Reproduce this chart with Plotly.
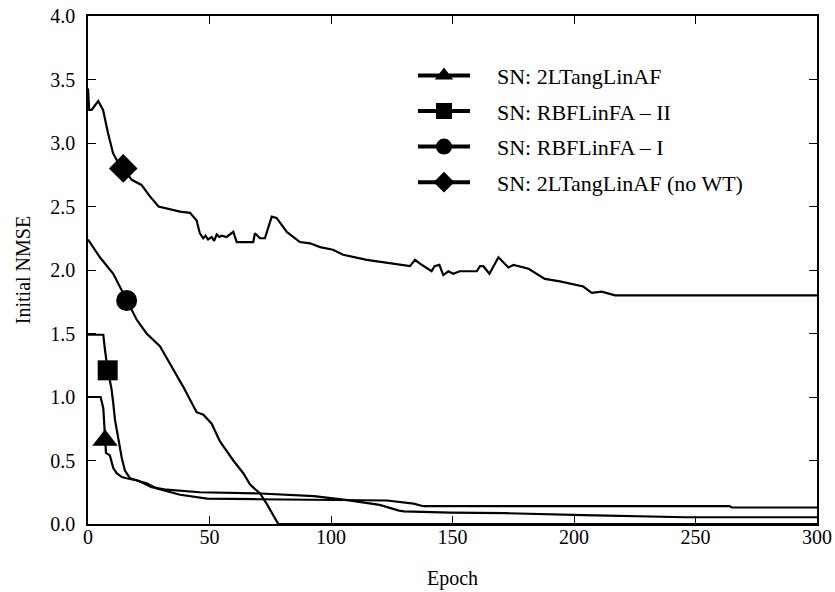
import plotly.graph_objects as go

# ---- data ----
epoch_a = [0, 5.2, 6.3, 7, 7.4, 9, 9.7, 10.4, 11.8, 13.9, 15.9, 18.7, 24.1, 28.3, 37.9, 46, 49, 70, 90, 106, 123, 134, 138, 264, 265, 300]
nmse_a = [1.00, 1.00, 0.91, 0.66, 0.56, 0.54, 0.48, 0.44, 0.40, 0.37, 0.36, 0.35, 0.32, 0.28, 0.23, 0.21, 0.20, 0.195, 0.19, 0.19, 0.185, 0.16, 0.14, 0.14, 0.13, 0.13]

epoch_b = [0, 6.3, 7, 8.1, 9, 9.7, 10.4, 11.1, 12.5, 13.9, 15.2, 17.3, 20.7, 24, 26.2, 32.4, 38, 46, 71, 93, 106, 120, 128, 130, 149, 172, 204, 227, 246, 300]
nmse_b = [1.49, 1.49, 1.37, 1.21, 1.13, 1.06, 0.95, 0.82, 0.67, 0.52, 0.42, 0.36, 0.34, 0.31, 0.29, 0.27, 0.26, 0.25, 0.24, 0.22, 0.19, 0.15, 0.105, 0.10, 0.09, 0.085, 0.07, 0.058, 0.053, 0.053]

epoch_c = [0, 4.9, 10.4, 15.9, 20, 24.1, 29.6, 34.4, 39.2, 44.7, 47.5, 50.9, 54.3, 59.8, 63.9, 66.7, 70.8, 73.5, 76.3, 78.3, 300]
nmse_c = [2.24, 2.10, 1.97, 1.76, 1.61, 1.50, 1.40, 1.24, 1.08, 0.88, 0.86, 0.79, 0.65, 0.50, 0.40, 0.31, 0.24, 0.16, 0.06, 0.0, 0.0]

epoch_d = [0, 0.5, 1.5, 4.2, 6.2, 8.2, 10.3, 12, 14.5, 18, 22, 25.5, 29, 33.7, 37.9, 42, 44.7, 46, 47.4, 48.4, 49.4,
           50.9, 51.9, 53, 54, 55, 57, 59.8, 61.2, 68, 68.7, 70.8, 72.8, 75.6, 77.6, 81.8, 87.2, 91.4, 95.5, 100.8,
           105, 114.7, 132.5, 134.6, 136.6, 141.4, 142.6, 144.6, 146.2, 148.3, 150.3, 153, 160, 161.3, 162.7, 165.2,
           168.9, 173, 175.1, 181.3, 188, 194.2, 203.8, 207.3, 211.4, 216.9, 300]
nmse_d = [3.43, 3.26, 3.26, 3.33, 3.26, 3.08, 2.92, 2.86, 2.80, 2.71, 2.67, 2.58, 2.50, 2.48, 2.46, 2.45, 2.39, 2.29, 2.25, 2.27, 2.24,
          2.26, 2.23, 2.28, 2.26, 2.27, 2.26, 2.30, 2.22, 2.22, 2.29, 2.25, 2.25, 2.42, 2.41, 2.30, 2.22, 2.21, 2.18, 2.16,
          2.12, 2.08, 2.03, 2.08, 2.05, 1.99, 2.03, 2.04, 1.96, 1.99, 1.97, 1.99, 1.99, 2.03, 2.03, 1.97,
          2.10, 2.02, 2.04, 2.01, 1.93, 1.91, 1.87, 1.82, 1.83, 1.80, 1.80]

series_names = ["SN: 2LTangLinAF", "SN: RBFLinFA \u2013 II", "SN: RBFLinFA \u2013 I", "SN: 2LTangLinAF (no WT)"]
marker_symbols = ["triangle-up", "square", "circle", "diamond"]
marker_index = [3, 3, 3, 8]

x_ticks = [0, 50, 100, 150, 200, 250, 300]
y_ticks = [0.0, 0.5, 1.0, 1.5, 2.0, 2.5, 3.0, 3.5, 4.0]

FONT = "Liberation Serif"
series = [(epoch_a, nmse_a), (epoch_b, nmse_b), (epoch_c, nmse_c), (epoch_d, nmse_d)]
marker_sizes = [22, 20, 21, 22]
PAD = "\u00a0" * 4

fig = go.Figure()
for i, (ex, ny) in enumerate(series):
    fig.add_trace(go.Scatter(x=ex, y=ny, mode="lines", line=dict(color="black", width=2.2),
                             showlegend=False, hoverinfo="skip"))
for i, (ex, ny) in enumerate(series):
    k = marker_index[i]
    fig.add_trace(go.Scatter(x=[ex[k]], y=[ny[k]], mode="lines+markers", name=PAD + series_names[i],
                             legendgroup=f"g{i}",
                             line=dict(color="black", width=4),
                             marker=dict(symbol=marker_symbols[i], size=marker_sizes[i], color="black")))

axis_common = dict(showline=True, linecolor="black", linewidth=1.5, mirror="ticks", ticks="inside",
                   ticklen=8, tickcolor="black", tickwidth=1, showgrid=False, zeroline=False,
                   automargin=False, ticklabeloverflow="allow",
                   tickfont=dict(family=FONT, size=20, color="black"))

fig.update_xaxes(range=[0, 300], tickvals=x_ticks, ticktext=[str(v) for v in x_ticks],
                 ticklabelstandoff=-6,
                 title=dict(text="Epoch", font=dict(family=FONT, size=20, color="black"), standoff=24),
                 **axis_common)
fig.update_yaxes(range=[0, 4], tickvals=y_ticks, ticktext=[f"{v:.1f}" for v in y_ticks],
                 ticklabelstandoff=7,
                 title=dict(text="Initial NMSE", font=dict(family=FONT, size=20, color="black"), standoff=14),
                 **axis_common)

fig.update_layout(
    width=835, height=592,
    margin=dict(l=88, r=18, t=16, b=68),
    paper_bgcolor="white", plot_bgcolor="white",
    font=dict(family=FONT, color="black"),
    legend=dict(x=0.4458, y=0.924, xanchor="left", yanchor="top", bgcolor="rgba(0,0,0,0)",
                font=dict(family=FONT, size=22, color="black"),
                traceorder="grouped", tracegroupgap=4, itemwidth=52),
)

fig.write_html("out.html", config={"displayModeBar": False},
               post_script="document.body.style.margin='0px';")
